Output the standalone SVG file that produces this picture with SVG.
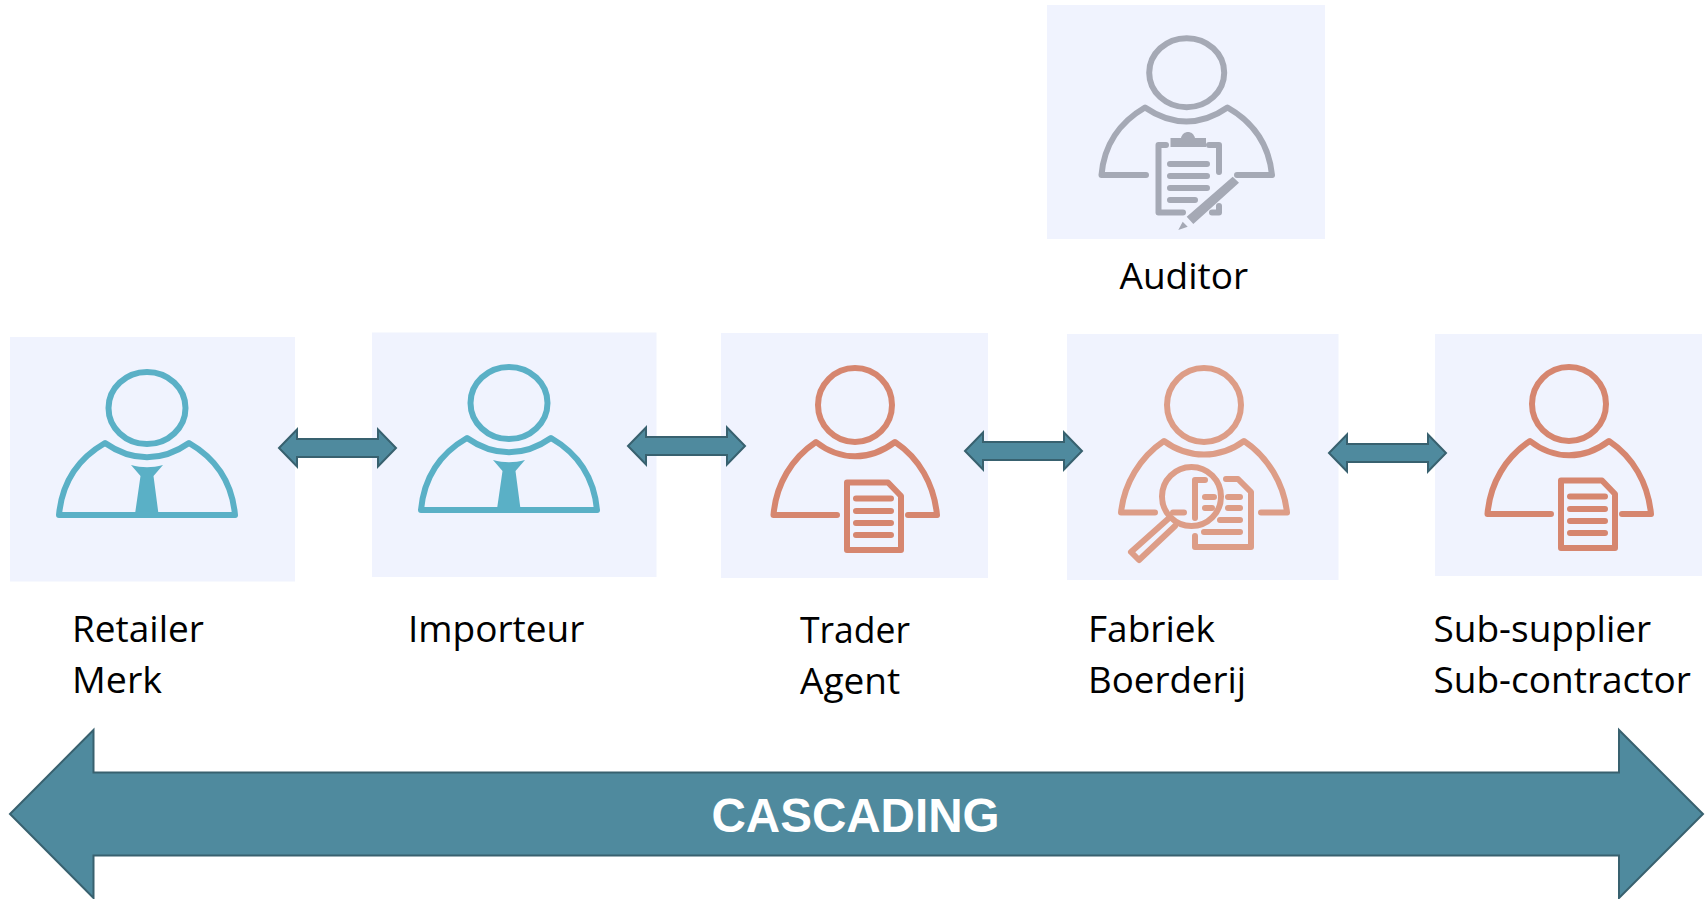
<svg xmlns="http://www.w3.org/2000/svg" width="1707" height="899" viewBox="0 0 1707 899">
<style>
.panel{fill:#f0f3fe}
.label{font-family:"Open Sans","Noto Sans",sans-serif;font-size:37px;fill:#000}
.o{fill:none;stroke-width:6;stroke-linejoin:round;stroke-linecap:round}
.teal{stroke:#5ab0c6}.tealf{fill:#5ab0c6}
.red{stroke:#d6866f}
.peach{stroke:#dd9d87}
.gray{stroke:#a5a9b5}.grayf{fill:#a5a9b5}
.arrow{fill:#4f8a9e;stroke:#38616f;stroke-width:2}
</style>
<rect width="1707" height="899" fill="#fff"/>
<g id="auditor">
<rect class="panel" x="1047" y="5" width="278" height="234"/>
<g class="o gray">
<ellipse cx="1186.700" cy="72.700" rx="37.500" ry="34.500"/>
<path d="M1146 175H1101.500C1104 145 1120 122 1145 107.500C1172 126 1201 126 1227.500 107.500C1253 122 1269 145 1272 175H1237"/>
<path d="M1166 145H1158.500V212.500H1183M1209 145H1219V172M1219 206V212.500H1212"/>
</g>
<path class="grayf" d="M1170.500 147V138H1181C1183 130 1193 130 1195 138H1206V147Z"/>
<g class="o gray">
<path d="M1170 164H1207M1170 176H1207M1170 188H1207M1170 200H1195"/>
</g>
<path class="grayf" d="M1232.700 176.700L1239 182.700L1193.300 224L1186.700 216.700ZM1178.300 230L1182.700 221.700L1187.700 226.700Z"/>
</g>
<g id="retailer">
<rect class="panel" x="10" y="337" width="285" height="244.500"/>
<g class="o teal">
<ellipse cx="147" cy="408" rx="38.500" ry="36"/>
<path d="M105 443C132 462 162 462 189 443C215 458 232 482 235 515H59C62 482 79 458 105 443Z"/>
</g>
<path class="tealf" d="M131 465C142 468 152 468 163 465L153.500 476L158.500 514H135L140.500 476Z"/>
</g>
<g id="importeur">
<rect class="panel" x="372" y="332.500" width="284.500" height="244.500"/>
<g class="o teal">
<ellipse cx="509" cy="403" rx="38.500" ry="36"/>
<path d="M467 438C494 457 524 457 551 438C577 453 594 477 597 510H421C424 477 441 453 467 438Z"/>
</g>
<path class="tealf" d="M493 460C504 463 514 463 525 460L515.500 471L520.500 509H497L502.500 471Z"/>
</g>
<g id="trader">
<rect class="panel" x="721" y="333" width="267" height="245"/>
<g class="o red">
<circle cx="855" cy="405" r="37"/>
<path d="M837 515H773.500C776 484 792 458 816 442C840 461 870 461 895 442C919 458 934 484 937 515H908"/>
<path d="M847 482.500H888L901 496V550H847Z"/>
<path d="M856 498.500H891M856 511H891M856 523H891M856 535H891"/>
</g>
</g>
<g id="fabriek">
<rect class="panel" x="1067" y="334" width="271.500" height="246"/>
<g class="o peach">
<circle cx="1204" cy="405" r="37"/>
<path d="M1155 512.500H1121C1124 484 1140 457 1164 441C1188 459 1220 459 1244 441C1268 457 1284 484 1287 512.500H1261"/>
<circle cx="1191.500" cy="496.500" r="29.500"/>
<path d="M1195 480V518M1195 480H1205M1226 479H1238L1251 492V547H1195V536"/>
<path d="M1173 512.500H1184M1205 497H1214M1228 497H1240M1205 508H1212M1228 508H1240M1220 520H1240M1204 532H1240"/>
<path d="M1168 519L1131 552L1139 560L1175 526"/>
</g>
</g>
<g id="subsupplier">
<rect class="panel" x="1435" y="334" width="267" height="242"/>
<g class="o red">
<circle cx="1569" cy="404" r="37"/>
<path d="M1551 514H1487.500C1490 483 1506 457 1530 441C1554 460 1584 460 1609 441C1633 457 1648 483 1651 514H1622"/>
<path d="M1561 480.500H1602L1615 494V548H1561Z"/>
<path d="M1570 496.500H1605M1570 509H1605M1570 521H1605M1570 533H1605"/>
</g>
</g>
<g id="connectors">
<path class="arrow" d="M279 448L297 429.500V439H378V429.500L396 448L378 466.500V457H297V466.500Z"/>
<path class="arrow" d="M628 446L646 427.500V437H727V427.500L745 446L727 464.500V455H646V464.500Z"/>
<path class="arrow" d="M965 451L983 432.500V442H1064V432.500L1082 451L1064 469.500V460H983V469.500Z"/>
<path class="arrow" d="M1329 453L1347 434.500V444H1428V434.500L1446 453L1428 471.500V462H1347V471.500Z"/>
<path class="arrow" d="M10 814L93.500 730V772.500H1619V730L1703 814L1619 898V855.500H93.500V898Z"/>
</g>
<g id="labels">
<text class="label" x="72" y="642">Retailer</text>
<text class="label" x="72" y="693" textLength="90" lengthAdjust="spacingAndGlyphs">Merk</text>
<text class="label" x="408" y="642">Importeur</text>
<text class="label" x="800" y="643" textLength="110" lengthAdjust="spacingAndGlyphs">Trader</text>
<text class="label" x="800" y="694">Agent</text>
<text class="label" x="1088" y="642">Fabriek</text>
<text class="label" x="1088" y="693" textLength="158" lengthAdjust="spacingAndGlyphs">Boerderij</text>
<text class="label" x="1433.500" y="642">Sub-supplier</text>
<text class="label" x="1433.500" y="693">Sub-contractor</text>
<text class="label" x="1119.500" y="289">Auditor</text>
<text x="855.500" y="832" text-anchor="middle" style="font-family:'Liberation Sans',sans-serif;font-weight:700;font-size:47.600px;fill:#fff">CASCADING</text>
</g>
</svg>
